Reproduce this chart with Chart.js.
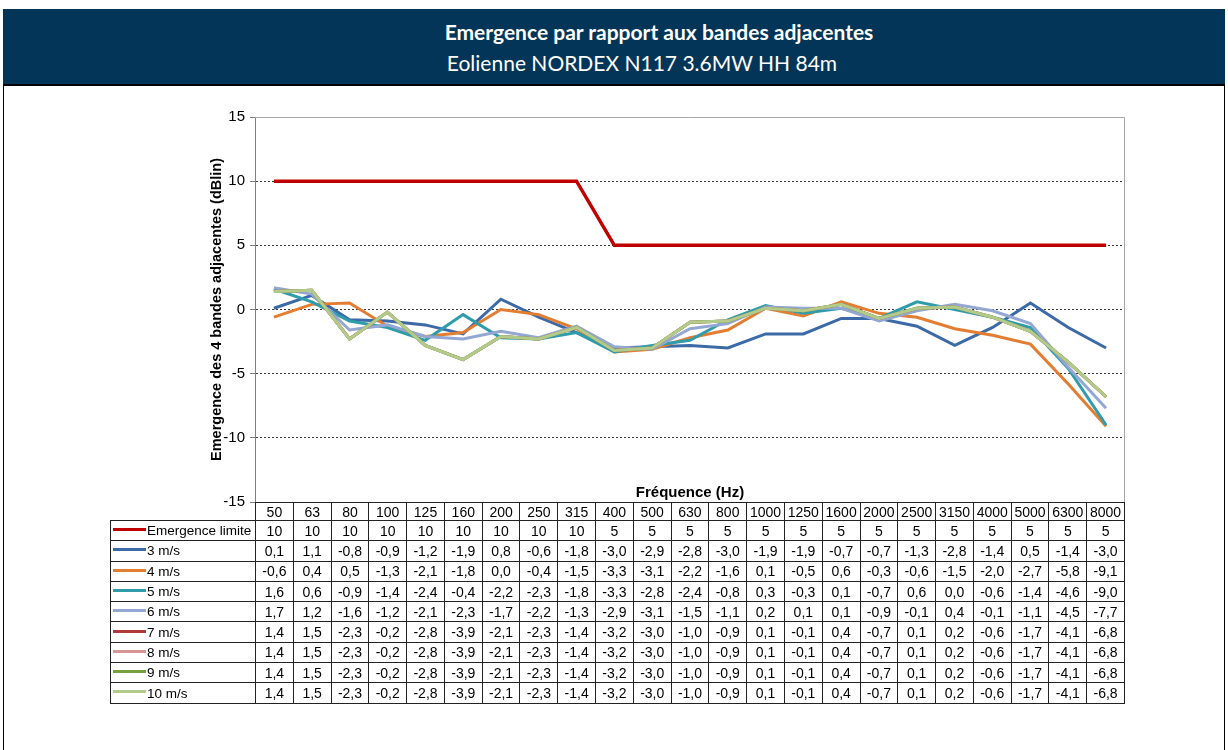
<!DOCTYPE html>
<html lang="fr">
<head>
<meta charset="UTF-8">
<title>Emergence par rapport aux bandes adjacentes</title>
<script src="https://cdn.jsdelivr.net/npm/chart.js"></script>
<style>
    body {
        margin: 0;
        width: 1228px;
        height: 750px;
        position: relative;
        overflow: hidden;
        background: #fff;
        font-family: Arial, "Liberation Sans", sans-serif;
    }
    .frame {
        position: absolute;
        left: 3px;
        top: 9px;
        width: 1220px;
        height: 800px;
        border: 1px solid #000;
    }
    .banner {
        position: absolute;
        left: 3px;
        top: 9px;
        width: 1222px;
        height: 75px;
        background: #033558;
        border-bottom: 2px solid #000;
        color: #fff;
        text-align: center;
        font-family: Lato, "Open Sans", sans-serif;
    }
    .banner .t1 {
        position: absolute; left: 90px; right: 0; top: 10px;
        font-size: 21px; font-weight: bold;
    }
    .banner .t2 {
        position: absolute; left: 56px; right: 0; top: 41px;
        font-size: 21px;
    }
    .chart-box {
        position: absolute;
        left: 0;
        top: 0;
        width: 1228px;
        height: 750px;
    }
    .xtitle {
        position: absolute;
        left: 255px;
        width: 870px;
        top: 483px;
        line-height: 17px;
        text-align: center;
        font-weight: bold;
        font-size: 15px;
    }
    #tbl {
        position: absolute;
        left: 110px;
        top: 502px;
        width: 1015px;
        table-layout: fixed;
        border-collapse: collapse;
        font-size: 14px;
    }
    #tbl td {
        border: 1px solid #222;
        text-align: center;
        padding: 0;
        height: 19.3px;
        white-space: nowrap;
        overflow: hidden;
    }
    #tbl tr.hdr td { height: 17px; }
    #tbl td.blank { border-top: none; border-left: none; }
    #tbl td.name { text-align: left; font-size: 13.5px; }
    .mk {
        display: inline-block;
        width: 33px;
        height: 3px;
        margin: 0 1px 4px 2px;
        vertical-align: middle;
    }
</style>
</head>
<body>
    <div class="frame"></div>
    <div class="banner">
        <div class="t1">Emergence par rapport aux bandes adjacentes</div>
        <div class="t2">Eolienne NORDEX N117 3.6MW HH 84m</div>
    </div>
    <div class="chart-box"><canvas id="chart"></canvas></div>
    <div class="xtitle">Fréquence (Hz)</div>
    <table id="tbl"></table>

<script>
    // tiers d'octave (Hz)
    const freqs = [50, 63, 80, 100, 125, 160, 200, 250, 315, 400, 500, 630, 800, 1000, 1250, 1600, 2000, 2500, 3150, 4000, 5000, 6300, 8000];

    const limite = [10, 10, 10, 10, 10, 10, 10, 10, 10, 5, 5, 5, 5, 5, 5, 5, 5, 5, 5, 5, 5, 5, 5];
    const v3 = [0.1, 1.1, -0.8, -0.9, -1.2, -1.9, 0.8, -0.6, -1.8, -3.0, -2.9, -2.8, -3.0, -1.9, -1.9, -0.7, -0.7, -1.3, -2.8, -1.4, 0.5, -1.4, -3.0];
    const v4 = [-0.6, 0.4, 0.5, -1.3, -2.1, -1.8, 0.0, -0.4, -1.5, -3.3, -3.1, -2.2, -1.6, 0.1, -0.5, 0.6, -0.3, -0.6, -1.5, -2.0, -2.7, -5.8, -9.1];
    const v5 = [1.6, 0.6, -0.9, -1.4, -2.4, -0.4, -2.2, -2.3, -1.8, -3.3, -2.8, -2.4, -0.8, 0.3, -0.3, 0.1, -0.7, 0.6, 0.0, -0.6, -1.4, -4.6, -9.0];
    const v6 = [1.7, 1.2, -1.6, -1.2, -2.1, -2.3, -1.7, -2.2, -1.3, -2.9, -3.1, -1.5, -1.1, 0.2, 0.1, 0.1, -0.9, -0.1, 0.4, -0.1, -1.1, -4.5, -7.7];
    const v7 = [1.4, 1.5, -2.3, -0.2, -2.8, -3.9, -2.1, -2.3, -1.4, -3.2, -3.0, -1.0, -0.9, 0.1, -0.1, 0.4, -0.7, 0.1, 0.2, -0.6, -1.7, -4.1, -6.8];
    const v8 = [1.4, 1.5, -2.3, -0.2, -2.8, -3.9, -2.1, -2.3, -1.4, -3.2, -3.0, -1.0, -0.9, 0.1, -0.1, 0.4, -0.7, 0.1, 0.2, -0.6, -1.7, -4.1, -6.8];
    const v9 = [1.4, 1.5, -2.3, -0.2, -2.8, -3.9, -2.1, -2.3, -1.4, -3.2, -3.0, -1.0, -0.9, 0.1, -0.1, 0.4, -0.7, 0.1, 0.2, -0.6, -1.7, -4.1, -6.8];
    const v10 = [1.4, 1.5, -2.3, -0.2, -2.8, -3.9, -2.1, -2.3, -1.4, -3.2, -3.0, -1.0, -0.9, 0.1, -0.1, 0.4, -0.7, 0.1, 0.2, -0.6, -1.7, -4.1, -6.8];

    const names = ['Emergence limite', '3 m/s', '4 m/s', '5 m/s', '6 m/s', '7 m/s', '8 m/s', '9 m/s', '10 m/s'];
    const values = [limite, v3, v4, v5, v6, v7, v8, v9, v10];
    const colors = ['#C00000', '#3B6AA6', '#E37D32', '#2F9CAB', '#94A7D3', '#B03A3A', '#D89594', '#76A03C', '#B2CB8B'];

    const yTitle = 'Emergence des 4 bandes adjacentes (dBlin)';

    // tableau de données sous le graphique
    const fmt = (v, i) => i === 0 ? String(v) : v.toFixed(1).replace('.', ',');
    let html = '<tr class="hdr"><td class="blank"></td>' + freqs.map(f => `<td>${f}</td>`).join('') + '</tr>';
    names.forEach((n, i) => {
        html += `<tr><td class="name"><span class="mk" style="background:${colors[i]}"></span>${n}</td>`;
        html += values[i].map(v => `<td>${fmt(v, i)}</td>`).join('') + '</tr>';
    });
    document.getElementById('tbl').innerHTML = '<colgroup><col style="width:145px">' + freqs.map(() => '<col>').join('') + '</colgroup>' + html;

    // cadre haut / droite de la zone de tracé
    const plotBorder = {
        id: 'plotBorder',
        beforeDatasetsDraw(chart) {
            const {ctx, chartArea: a} = chart;
            ctx.save();
            ctx.strokeStyle = '#a6a6a6';
            ctx.lineWidth = 1;
            ctx.beginPath();
            ctx.moveTo(a.left, a.top + 0.5);
            ctx.lineTo(a.right - 0.5, a.top + 0.5);
            ctx.lineTo(a.right - 0.5, a.bottom);
            ctx.stroke();
            ctx.restore();
        }
    };

    new Chart(document.getElementById('chart'), {
        type: 'line',
        data: {
            labels: freqs,
            datasets: names.map((n, i) => ({
                label: n,
                data: values[i],
                borderColor: colors[i],
                backgroundColor: colors[i],
                borderWidth: i === 0 ? 3.5 : 3,
                pointRadius: 0,
                tension: 0,
                order: names.length - i
            }))
        },
        options: {
            responsive: true,
            maintainAspectRatio: false,
            animation: false,
            layout: { padding: { left: 201, top: 117, right: 103, bottom: 248 } },
            plugins: {
                legend: { display: false },
                tooltip: { enabled: false }
            },
            scales: {
                x: { display: false, offset: true },
                y: {
                    min: -15,
                    max: 15,
                    ticks: { stepSize: 5, color: '#000', font: { size: 15, family: 'Arial' }, padding: 5 },
                    grid: {
                        color: c => (c.tick.value === 15 || c.tick.value === -15) ? 'rgba(0,0,0,0)' : '#3a3a3a',
                        tickLength: 5,
                        tickColor: '#808080'
                    },
                    border: { dash: [2, 2], color: '#7f7f7f' },
                    title: {
                        display: true,
                        text: yTitle,
                        color: '#000',
                        font: { size: 14.5, weight: 'bold', family: 'Arial' },
                        padding: { top: 7, bottom: 0 }
                    },
                    afterFit: s => { s.width = 54; }
                }
            }
        },
        plugins: [plotBorder]
    });
</script>
</body>
</html>
